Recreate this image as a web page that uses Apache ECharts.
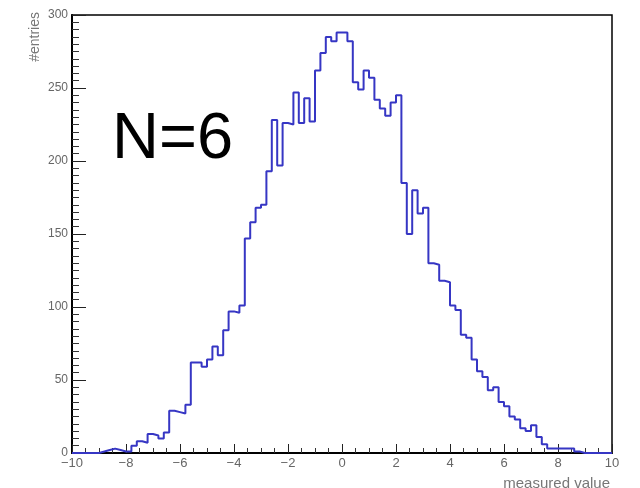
<!DOCTYPE html>
<html>
<head>
<meta charset="utf-8">
<style>
  html, body { margin: 0; padding: 0; background: #fff; }
  #chart { width: 640px; height: 488px; }
</style>
<script src="https://cdn.jsdelivr.net/npm/echarts@6/dist/echarts.min.js"></script>
</head>
<body>
<div id="chart"></div>
<script>
// histogram: 100 bins from -10 to 10
var xMin = -10;
var xMax = 10;
var binWidth = 0.2;
var counts = [
  0, 0, 0, 0, 0, 1, 2, 3, 2, 1,
  1, 5, 8, 7, 13, 12, 10, 14, 29, 28,
  27, 33, 62, 62, 59, 64, 73, 67, 84, 97,
  96, 101, 147, 158, 168, 170, 193, 228, 197, 226,
  225, 247, 226, 243, 227, 262, 274, 285, 282, 288,
  288, 282, 254, 249, 262, 257, 242, 236, 231, 240,
  245, 185, 150, 180, 164, 168, 130, 129, 118, 117,
  101, 98, 81, 79, 64, 56, 52, 43, 45, 35,
  32, 25, 23, 17, 15, 19, 11, 6, 3, 3,
  3, 3, 3, 1, 0, 0, 0, 0, 0, 0
];
var yTicks = [0, 50, 100, 150, 200, 250, 300];
var xTitle = 'measured value';
var yTitle = '#entries';
var label = 'N=6';

var steps = counts.map(function (c, i) {
  return [xMin + i * binWidth, c];
});
steps.push([xMax, 0]);

var myChart = echarts.init(document.getElementById('chart'));
var option = {
  animation: false,
  grid: {
    left: 72, right: 28, top: 15, bottom: 35,
    show: true, borderColor: '#000', borderWidth: 1.5
  },
  xAxis: {
    type: 'value', min: xMin, max: xMax, interval: 2,
    axisLine: { onZero: false, lineStyle: { color: '#000', width: 2 } },
    axisTick: { inside: true, length: 9, lineStyle: { color: '#222' } },
    minorTick: { show: true, splitNumber: 4, length: 5, lineStyle: { color: '#333' } },
    splitLine: { show: false },
    axisLabel: {
      color: '#666', fontSize: 13, margin: 4,
      fontFamily: 'Liberation Sans',
      formatter: function (v) { return v < 0 ? '\u2212' + Math.abs(v) : String(v); }
    }
  },
  yAxis: {
    type: 'value', min: yTicks[0], max: yTicks[yTicks.length - 1], interval: 50,
    axisLine: { show: true, onZero: false, lineStyle: { color: '#000', width: 2 } },
    axisTick: { show: true, inside: true, length: 14, lineStyle: { color: '#222' } },
    minorTick: { show: true, splitNumber: 10, length: 7, lineStyle: { color: '#333' } },
    splitLine: { show: false },
    axisLabel: { color: '#666', fontSize: 12, margin: 4, fontFamily: 'Liberation Sans' }
  },
  series: [{
    type: 'line',
    step: 'end',
    data: steps,
    symbol: 'none',
    lineStyle: { color: '#3636c4', width: 2 }
  }],
  graphic: [
    {
      type: 'text', x: 112, y: 140,
      style: {
        text: label, fontSize: 65, fill: '#000',
        fontFamily: 'Liberation Sans', verticalAlign: 'middle'
      }
    },
    {
      type: 'text', x: 610, y: 476,
      style: {
        text: xTitle, fontSize: 15, fill: '#777',
        fontFamily: 'Liberation Sans', align: 'right', verticalAlign: 'top'
      }
    },
    {
      type: 'text', x: 35, y: 12, rotation: Math.PI / 2,
      style: {
        text: yTitle, fontSize: 14, fill: '#777',
        fontFamily: 'Liberation Sans', align: 'right', verticalAlign: 'middle'
      }
    }
  ]
};
myChart.setOption(option);
</script>
</body>
</html>
